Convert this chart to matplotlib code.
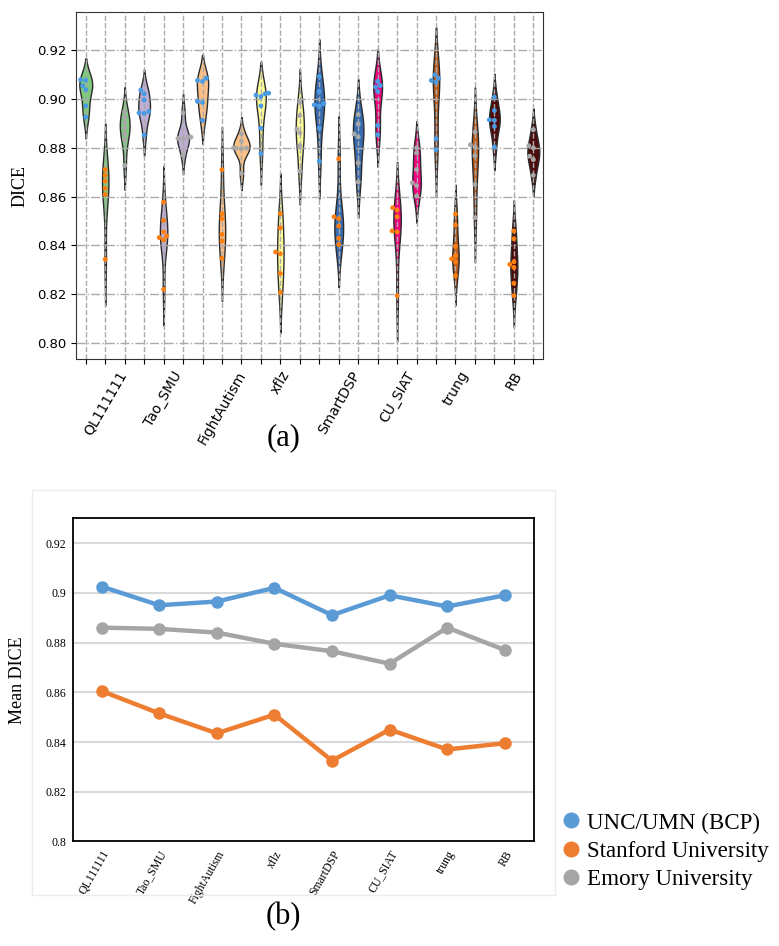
import numpy as np
import pandas as pd
import matplotlib
matplotlib.use('Agg')
import matplotlib.pyplot as plt
from matplotlib.lines import Line2D
from matplotlib.patches import Rectangle
import seaborn as sns

teams = ['QL111111', 'Tao_SMU', 'FightAutism', 'xflz', 'SmartDSP', 'CU_SIAT', 'trung', 'RB']
sites = ['UNC/UMN (BCP)', 'Stanford University', 'Emory University']

# per-subject DICE, panel (a)
bcp_dice = [
    [0.9078, 0.9076, 0.9053, 0.9037, 0.8971, 0.8925],
    [0.9035, 0.9020, 0.8995, 0.8948, 0.8942, 0.8940, 0.8852],
    [0.9084, 0.9075, 0.9071, 0.8989, 0.8985, 0.8912],
    [0.9023, 0.9020, 0.9015, 0.9009, 0.8971, 0.8880, 0.8776],
    [0.9091, 0.9030, 0.8980, 0.8975, 0.8971, 0.8880, 0.8744],
    [0.9071, 0.9054, 0.9048, 0.9030, 0.8891, 0.8853],
    [0.9098, 0.9084, 0.9075, 0.9067, 0.8836, 0.8792],
    [0.9007, 0.8952, 0.8914, 0.8912, 0.8887, 0.8803],
]
stanford_dice = [
    [0.8710, 0.8687, 0.8663, 0.8633, 0.8608, 0.8343],
    [0.8577, 0.8502, 0.8455, 0.8438, 0.8432, 0.8422, 0.8220],
    [0.8710, 0.8529, 0.8509, 0.8445, 0.8418, 0.8347],
    [0.8530, 0.8472, 0.8373, 0.8366, 0.8285, 0.8207],
    [0.8754, 0.8517, 0.8509, 0.8479, 0.8429, 0.8404],
    [0.8554, 0.8544, 0.8517, 0.8459, 0.8455, 0.8194],
    [0.8528, 0.8483, 0.8396, 0.8358, 0.8345, 0.8332, 0.8276],
    [0.8459, 0.8427, 0.8333, 0.8322, 0.8310, 0.8245, 0.8194],
]
emory_dice = [
    [0.8948, 0.8925, 0.8901, 0.8880, 0.8857, 0.8833, 0.8727],
    [0.8942, 0.8843, 0.8842, 0.8838, 0.8836, 0.8769],
    [0.8857, 0.8826, 0.8799, 0.8798, 0.8797, 0.8796, 0.8694],
    [0.8985, 0.8931, 0.8876, 0.8860, 0.8808, 0.8704],
    [0.8935, 0.8897, 0.8856, 0.8844, 0.8738, 0.8659],
    [0.8799, 0.8778, 0.8710, 0.8656, 0.8645, 0.8602],
    [0.8864, 0.8812, 0.8803, 0.8767, 0.8649, 0.8513],
    [0.8873, 0.8808, 0.8799, 0.8765, 0.8751, 0.8687],
]

# mean DICE, panel (b)
bcp_mean = [0.9025, 0.8950, 0.8965, 0.9020, 0.8910, 0.8990, 0.8945, 0.8990]
stanford_mean = [0.8605, 0.8515, 0.8435, 0.8510, 0.8325, 0.8450, 0.8370, 0.8395]
emory_mean = [0.8860, 0.8855, 0.8840, 0.8795, 0.8765, 0.8715, 0.8860, 0.8770]

team_colors = ['#7fc97f', '#beaed4', '#fdc086', '#ffff99', '#386cb0', '#f0027f', '#bf5b17', '#4d0a0a']
dot_colors = ['#4a9be6', '#ff7f0e', '#a8a8a8']
line_colors = ['#5b9bd5', '#ed7d31', '#a5a5a5']
# max width of every violin (BCP, Stanford, Emory per team), in slot units
violin_widths = [0.66, 0.33, 0.50, 0.60, 0.38, 0.61, 0.58, 0.33, 0.84, 0.50, 0.33, 0.42,
                 0.50, 0.45, 0.54, 0.45, 0.38, 0.44, 0.33, 0.33, 0.33, 0.55, 0.36, 0.61]

rows = []
for t in range(len(teams)):
    for s, site_data in enumerate([bcp_dice, stanford_dice, emory_dice]):
        for v in site_data[t]:
            rows.append({'slot': t * 3 + s, 'site': sites[s], 'dice': v})
df = pd.DataFrame(rows)

serif = 'Liberation Serif'

fig = plt.figure(figsize=(7.79, 9.46), dpi=100)

# ---------------- panel (a)
ax1 = fig.add_axes([0.0976, 0.6205, 0.5995, 0.3668])
for slot in range(24):
    d = df.loc[df['slot'] == slot, 'dice'].values
    bw = d.std(ddof=1) * len(d) ** (-0.2)   # scott
    ys = np.linspace(d.min() - 2 * bw, d.max() + 2 * bw, 300)
    dens = np.exp(-0.5 * ((ys[:, None] - d[None, :]) / bw) ** 2).sum(axis=1)
    half = dens / dens.max() * violin_widths[slot] / 2
    ax1.fill_betweenx(ys, slot - half, slot + half, facecolor=team_colors[slot // 3],
                      edgecolor='#2b2b2b', linewidth=1.0, zorder=1)
sns.swarmplot(data=df, x='slot', y='dice', hue='site', palette=dict(zip(sites, dot_colors)),
              size=3.5, legend=False, zorder=3, ax=ax1)
ax1.set_xlim(-0.5, 23.5)
ax1.set_ylim(0.7935, 0.9355)
yt1 = [0.80, 0.82, 0.84, 0.86, 0.88, 0.90, 0.92]
ax1.set_yticks(yt1)
ax1.set_yticklabels(['%.2f' % v for v in yt1], fontsize=9.5)
ax1.set_xticks(range(24))
xl = ['' for _ in range(24)]
for t in range(8):
    xl[t * 3 + 1] = teams[t]
ax1.set_xticklabels(xl, rotation=60, fontsize=10)
ax1.set_xlabel('')
ax1.set_ylabel('DICE', family=serif, fontsize=13, labelpad=6)
ax1.yaxis.grid(True, linestyle='-.', color='#aaaaaa', linewidth=1.0)
ax1.xaxis.grid(True, linestyle='--', color='#aaaaaa', linewidth=1.0)
ax1.set_axisbelow(False)
for sp in ax1.spines.values():
    sp.set_color('#333333')
fig.text(0.364, 0.537, '(a)', family=serif, fontsize=22, ha='center', va='center')

# ---------------- panel (b)
fig.patches.append(Rectangle((0.041, 0.054), 0.672, 0.428, transform=fig.transFigure,
                             fill=False, edgecolor='#ececec', linewidth=1))
ax2 = fig.add_axes([0.0936, 0.1105, 0.5914, 0.3417])
x = np.arange(len(teams))
for vals, c in zip([bcp_mean, stanford_mean, emory_mean], line_colors):
    ax2.plot(x, vals, color=c, linewidth=3.2, marker='o', markersize=8, zorder=3)
ax2.set_xlim(-0.5, 7.5)
ax2.set_ylim(0.8, 0.93)
yt = [0.8, 0.82, 0.84, 0.86, 0.88, 0.9, 0.92]
ax2.set_yticks(yt)
ax2.set_yticklabels(['0.8', '0.82', '0.84', '0.86', '0.88', '0.9', '0.92'], family=serif, fontsize=8.5)
ax2.set_xticks(x)
ax2.set_xticklabels(teams, rotation=60, ha='right', rotation_mode='anchor', family=serif, fontsize=8.5)
ax2.tick_params(length=0, pad=5)
ax2.yaxis.grid(True, color='#d9d9d9', linewidth=1.5, zorder=0)
ax2.set_axisbelow(True)
for sp in ax2.spines.values():
    sp.set_color('black')
    sp.set_linewidth(1.3)
ax2.set_ylabel('Mean DICE', family=serif, fontsize=13, labelpad=14)

handles = [Line2D([], [], linestyle='none', marker='o', markersize=10.5, color=c) for c in line_colors]
fig.legend(handles, sites, loc='upper left', bbox_to_anchor=(0.706, 0.151),
           frameon=False, prop={'family': serif, 'size': 16.6}, handletextpad=0.2,
           labelspacing=0.3, handlelength=1.0, borderaxespad=0)
fig.text(0.364, 0.031, '(b)', family=serif, fontsize=22, ha='center', va='center')

plt.savefig('out.png', dpi=100)
